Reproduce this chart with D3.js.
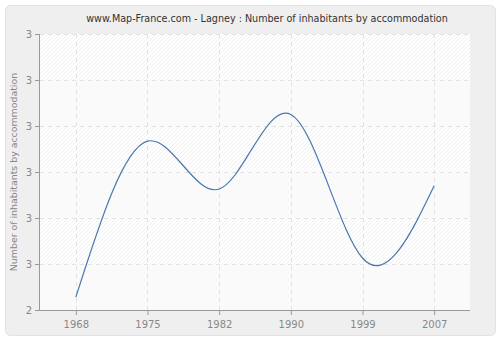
<!DOCTYPE html>
<html>
<head>
<meta charset="utf-8">
<script src="https://cdn.jsdelivr.net/npm/d3@7"></script>
<style>
  body { margin: 0; background: #fff; }
  svg { display: block; font-family: "DejaVu Sans", Verdana, sans-serif; }
</style>
</head>
<body>
<div id="chart"></div>
<script>
// Data
const years = ['1968', '1975', '1982', '1990', '1999', '2007'];
const values = [2.028, 2.367, 2.263, 2.425, 2.113, 2.270];
const yTicks = [2.0, 2.1, 2.2, 2.3, 2.4, 2.5, 2.6];
const yTickLabels = ['2', '3', '3', '3', '3', '3', '3'];

const width = 500;
const height = 340;
const margin = { top: 34, right: 30, bottom: 30, left: 40 };
const plotW = width - margin.left - margin.right;
const plotH = height - margin.top - margin.bottom;

const svg = d3.select('#chart')
  .append('svg')
  .attr('width', width)
  .attr('height', height);

// hatch pattern for the plot background
const defs = svg.append('defs');
const pat = defs.append('pattern')
  .attr('id', 'hatch')
  .attr('patternUnits', 'userSpaceOnUse')
  .attr('width', 4)
  .attr('height', 4);
pat.append('rect').attr('width', 4).attr('height', 4).attr('fill', '#ffffff');
pat.append('path')
  .attr('d', 'M-1,1 l2,-2 M0,4 l4,-4 M3,5 l2,-2')
  .attr('stroke', '#efefef')
  .attr('stroke-width', 1);

// outer panel
svg.append('rect')
  .attr('x', 5.5).attr('y', 5.5)
  .attr('width', 490).attr('height', 330)
  .attr('rx', 5)
  .attr('fill', '#efefef')
  .attr('stroke', '#e2e2e2');

// title
svg.append('text')
  .attr('x', 267)
  .attr('y', 22)
  .attr('text-anchor', 'middle')
  .style('font-size', '9.6px')
  .attr('fill', '#333')
  .text('www.Map-France.com - Lagney : Number of inhabitants by accommodation');

const g = svg.append('g')
  .attr('transform', `translate(${margin.left},${margin.top})`);

// scales
const x = d3.scalePoint()
  .domain(years)
  .range([0, plotW])
  .padding(0.5);

const y = d3.scaleLinear()
  .domain([yTicks[0], yTicks[yTicks.length - 1]])
  .range([plotH, 0]);

// plot background: alternating hatched / plain bands
g.append('rect')
  .attr('width', plotW)
  .attr('height', plotH)
  .attr('fill', '#fafafa');

for (let i = 0; i < yTicks.length - 1; i++) {
  if (i % 2 === 1) {
    g.append('rect')
      .attr('x', 0)
      .attr('y', y(yTicks[i + 1]))
      .attr('width', plotW)
      .attr('height', y(yTicks[i]) - y(yTicks[i + 1]))
      .attr('fill', 'url(#hatch)');
  }
}

// grid lines
g.append('g')
  .selectAll('line')
  .data(yTicks.slice(1))
  .enter()
  .append('line')
  .attr('x1', 0).attr('x2', plotW)
  .attr('y1', d => Math.round(y(d)) + 0.5)
  .attr('y2', d => Math.round(y(d)) + 0.5)
  .attr('stroke', '#e2e2e2')
  .attr('stroke-dasharray', '4,4');

g.append('g')
  .selectAll('line')
  .data(years)
  .enter()
  .append('line')
  .attr('x1', d => Math.round(x(d)) + 0.5)
  .attr('x2', d => Math.round(x(d)) + 0.5)
  .attr('y1', 0).attr('y2', plotH)
  .attr('stroke', '#e2e2e2')
  .attr('stroke-dasharray', '4,4');

// axes
const xAxis = g.append('g')
  .attr('transform', `translate(0,${plotH})`)
  .call(d3.axisBottom(x).tickSize(5).tickSizeOuter(0));

const yAxis = g.append('g')
  .call(d3.axisLeft(y)
    .tickValues(yTicks)
    .tickFormat((d, i) => yTickLabels[i])
    .tickSize(5)
    .tickSizeOuter(0));

[xAxis, yAxis].forEach(ax => {
  ax.select('.domain').attr('stroke', '#999');
  ax.selectAll('.tick line').attr('stroke', '#999');
  ax.selectAll('.tick text')
    .attr('fill', '#888')
    .style('font-size', '10px')
    .style('font-family', '"DejaVu Sans", Verdana, sans-serif');
});
// axis lines run the full plot size
xAxis.select('.domain').attr('d', `M0,0.5H${plotW}`);
yAxis.select('.domain').attr('d', `M-0.5,0V${plotH}`);
xAxis.selectAll('.tick text').attr('dy', '1em');

// y axis title
svg.append('text')
  .attr('transform', `translate(17,${margin.top + plotH / 2}) rotate(-90)`)
  .attr('text-anchor', 'middle')
  .style('font-size', '9.4px')
  .attr('fill', '#888')
  .text('Number of inhabitants by accommodation');

// line
const line = d3.line()
  .x((d, i) => x(years[i]))
  .y(d => y(d))
  .curve(d3.curveNatural);

g.append('path')
  .datum(values)
  .attr('fill', 'none')
  .attr('stroke', '#4a78ae')
  .attr('stroke-width', 1.2)
  .attr('d', line);
</script>
</body>
</html>
